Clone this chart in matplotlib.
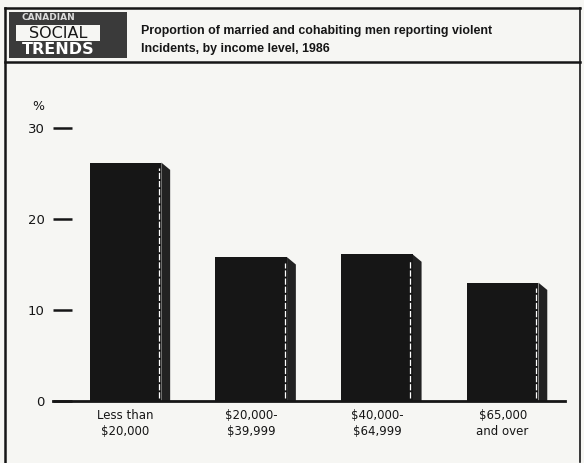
import matplotlib
matplotlib.use('Agg')
import matplotlib.pyplot as plt
from matplotlib.patches import Polygon, Rectangle

# =============================================================================
# Data
# =============================================================================
categories = ['Less than\n$20,000', '$20,000-\n$39,999', '$40,000-\n$64,999', '$65,000\nand over']
values = [26.2, 15.8, 16.1, 13.0]
yticks = [0, 10, 20, 30]

title = 'Proportion of married and cohabiting men reporting violent\nIncidents, by income level, 1986'

W, H = 584, 463
paper = '#f6f6f3'
ink = '#161616'

fig = plt.figure(figsize=(W / 100, H / 100), dpi=100, facecolor=paper)

# frame / header drawn in pixel space
deco = fig.add_axes([0, 0, 1, 1])
deco.set_xlim(0, W)
deco.set_ylim(H, 0)
deco.axis('off')
deco.plot([5, 580], [8, 8], color=ink, lw=1.8)
deco.plot([5, 580], [62, 62], color=ink, lw=1.8)
deco.plot([5, 5], [8, 462], color=ink, lw=1.8)
deco.plot([580, 580], [8, 462], color=ink, lw=1.2)

# logo
deco.add_patch(Rectangle((9, 12), 118, 46, color='#3a3a3a', lw=0))
deco.add_patch(Rectangle((16, 25), 84, 16, color=paper, lw=0))
deco.text(22, 18, 'CANADIAN', color='#dcdcdc', fontsize=6.5, fontweight='bold',
          va='center', ha='left', family='DejaVu Sans')
deco.text(58, 33.5, 'SOCIAL', color=ink, fontsize=11.5, va='center', ha='center',
          family='DejaVu Sans')
deco.text(58, 50, 'TRENDS', color='white', fontsize=11.5, fontweight='bold',
          va='center', ha='center', family='DejaVu Sans')

deco.text(141, 25, title, fontsize=8.9, fontweight='bold', va='top', ha='left',
          family=['Liberation Sans', 'DejaVu Sans'], linespacing=1.65, color=ink)

# =============================================================================
# Bar chart
# =============================================================================
left_px, right_px = 53, 565
y0_px, y30_px = 401, 128
ax = fig.add_axes([left_px / W, (H - y0_px) / H, (right_px - left_px) / W, (y0_px - y30_px) / H])
ax.set_facecolor('none')

x = list(range(len(values)))
bw = 0.57
depth = 0.07
bevel = 0.8
ax.bar(x, values, width=bw, color=ink, zorder=2)
for xi, v in zip(x, values):
    xr = xi + bw / 2
    ax.add_patch(Polygon([(xr, 0), (xr, v), (xr + depth, v - bevel), (xr + depth, 0)],
                         closed=True, color='#222222', lw=0, zorder=2))
    ax.vlines(xr - 0.02, 0.3, v - 0.6, color='white', lw=0.9,
              linestyles=(0, (5, 1.5)), zorder=3)

ax.set_xlim(-0.577, 3.496)
ax.set_ylim(0, 30)
for s in ['top', 'right', 'left']:
    ax.spines[s].set_visible(False)
ax.spines['bottom'].set_linewidth(2)
ax.spines['bottom'].set_color(ink)
ax.spines['bottom'].set_zorder(4)

ax.set_yticks(yticks)
ax.set_yticklabels([str(t) for t in yticks], fontsize=9.5, color=ink)
ax.tick_params(axis='y', direction='in', length=14, width=1.8, pad=6, colors=ink)
ax.set_xticks(x)
ax.set_xticklabels(categories, fontsize=8.5, color=ink, linespacing=1.25)
ax.tick_params(axis='x', length=0, pad=6)
for lbl in ax.get_yticklabels():
    lbl.set_clip_on(False)

deco.text(38, 106, '%', fontsize=9, ha='center', va='center', color=ink)

fig.savefig('out.png', dpi=100, facecolor=paper)
